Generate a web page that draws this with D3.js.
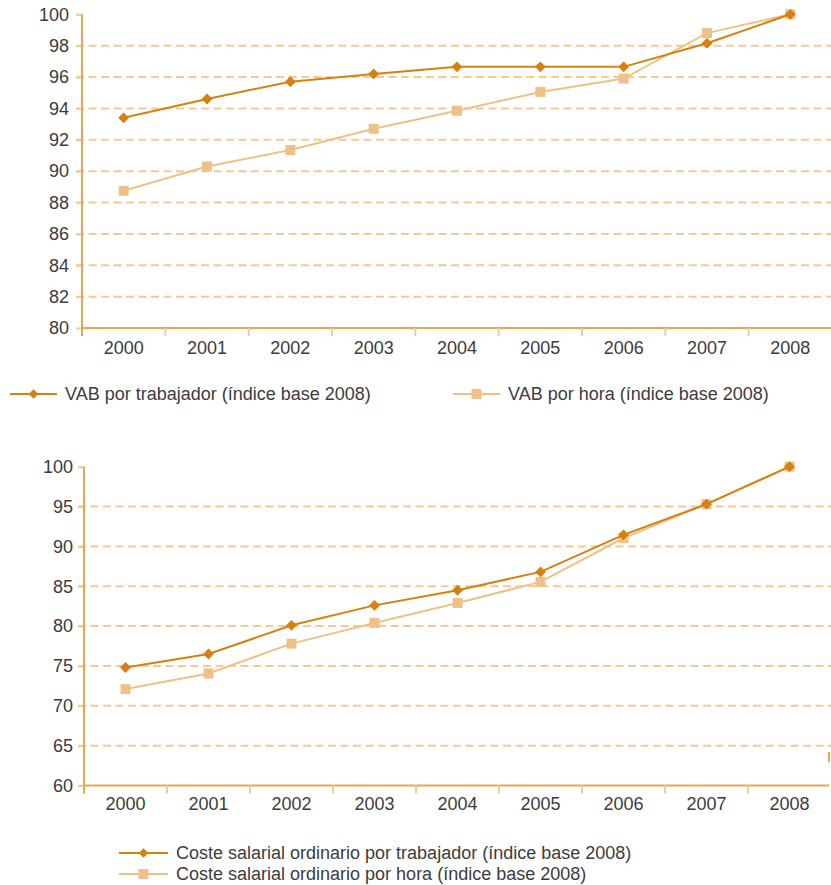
<!DOCTYPE html>
<html>
<head>
<meta charset="utf-8">
<script src="https://cdn.jsdelivr.net/npm/d3@7"></script>
<style>
  body { margin: 0; background: #fff; }
  svg text { font-family: "Liberation Sans", Arial, sans-serif; fill: #3c3c3c; }
</style>
</head>
<body>
<svg id="chart" width="831" height="885"></svg>
<script>
// data
const years = ["2000", "2001", "2002", "2003", "2004", "2005", "2006", "2007", "2008"];
const vabTrabajador = [93.4, 94.6, 95.7, 96.2, 96.65, 96.65, 96.65, 98.15, 100];
const vabHora = [88.75, 90.3, 91.35, 92.7, 93.85, 95.05, 95.9, 98.8, 100];
const costeTrabajador = [74.8, 76.5, 80.1, 82.6, 84.5, 86.8, 91.45, 95.3, 100];
const costeHora = [72.1, 74.05, 77.8, 80.4, 82.9, 85.55, 91.05, 95.3, 100];
const topTicks = [80, 82, 84, 86, 88, 90, 92, 94, 96, 98, 100];
const bottomTicks = [60, 65, 70, 75, 80, 85, 90, 95, 100];

const axisColor = "#eaa552",
  gridColor = "#f3c994",
  darkColor = "#d4810f",
  lightColor = "#efc188",
  fontSize = 18;

const svg = d3.select("#chart");

function drawPanel(opts) {
  const g = svg.append("g");
  const x = d3.scaleBand().domain(years).range([opts.left, opts.right]);
  const y = d3.scaleLinear().domain(opts.domain).range([opts.bottom, opts.top]);

  // dashed grid lines (interior ticks only)
  g.selectAll("line.grid")
    .data(opts.ticks.slice(1, -1))
    .join("line")
    .attr("class", "grid")
    .attr("x1", opts.left - 6)
    .attr("x2", 831)
    .attr("y1", (d) => y(d))
    .attr("y2", (d) => y(d))
    .attr("stroke", gridColor)
    .attr("stroke-width", 2)
    .attr("stroke-dasharray", "8,4.5");

  // y axis
  const yAxis = g
    .append("g")
    .attr("transform", `translate(${opts.left},0)`)
    .call(d3.axisLeft(y).tickValues(opts.ticks).tickSize(6).tickPadding(opts.yPad));
  yAxis.select(".domain").remove();
  yAxis.selectAll(".tick line").attr("stroke", gridColor).attr("stroke-width", 2);
  yAxis.selectAll("text").attr("font-size", fontSize).style("fill", "#3c3c3c");

  g.append("line")
    .attr("x1", opts.left)
    .attr("x2", opts.left)
    .attr("y1", y(opts.domain[1]))
    .attr("y2", opts.bottom + 8)
    .attr("stroke", axisColor)
    .attr("stroke-width", 2);

  // x axis
  const xAxis = g
    .append("g")
    .attr("transform", `translate(0,${opts.bottom})`)
    .call(d3.axisBottom(x).tickSize(0).tickPadding(opts.xPad));
  xAxis.select(".domain").remove();
  xAxis.selectAll("text").attr("font-size", fontSize).style("fill", "#3c3c3c");

  g.append("line")
    .attr("x1", opts.left)
    .attr("x2", opts.axisEnd)
    .attr("y1", opts.bottom)
    .attr("y2", opts.bottom)
    .attr("stroke", axisColor)
    .attr("stroke-width", 2);

  // ticks at the band edges
  g.selectAll("line.xtick")
    .data(years.slice(1))
    .join("line")
    .attr("class", "xtick")
    .attr("x1", (d) => x(d))
    .attr("x2", (d) => x(d))
    .attr("y1", opts.bottom)
    .attr("y2", opts.bottom + 8)
    .attr("stroke", gridColor)
    .attr("stroke-width", 2);

  const cx = (d, i) => x(years[i]) + x.bandwidth() / 2;
  const line = d3.line().x((d, i) => cx(d, i)).y((d) => y(d));

  // light series under the dark one
  g.append("path")
    .datum(opts.light)
    .attr("d", line)
    .attr("fill", "none")
    .attr("stroke", lightColor)
    .attr("stroke-width", 2);
  g.selectAll("rect.pt")
    .data(opts.light)
    .join("rect")
    .attr("class", "pt")
    .attr("x", (d, i) => cx(d, i) - 5)
    .attr("y", (d) => y(d) - 5)
    .attr("width", 10)
    .attr("height", 10)
    .attr("fill", lightColor);

  g.append("path")
    .datum(opts.dark)
    .attr("d", line)
    .attr("fill", "none")
    .attr("stroke", darkColor)
    .attr("stroke-width", 2);
  g.selectAll("path.pt")
    .data(opts.dark)
    .join("path")
    .attr("class", "pt")
    .attr("d", d3.symbol(d3.symbolDiamond2, 75))
    .attr("transform", (d, i) => `translate(${cx(d, i)},${y(d)})`)
    .attr("fill", darkColor);

  return g;
}

drawPanel({
  left: 82, right: 832, axisEnd: 831, top: 14.3, bottom: 328,
  domain: [80, 100], ticks: topTicks, yPad: 7, xPad: 13,
  dark: vabTrabajador, light: vabHora,
});

const bottomPanel = drawPanel({
  left: 84, right: 831, axisEnd: 829, top: 466.7, bottom: 785.5,
  domain: [60, 100], ticks: bottomTicks, yPad: 5, xPad: 12,
  dark: costeTrabajador, light: costeHora,
});
// little cut-off stub at the right edge
bottomPanel.append("line")
  .attr("x1", 829).attr("x2", 829).attr("y1", 752).attr("y2", 762)
  .attr("stroke", axisColor).attr("stroke-width", 2);

// legends
function legendItem(x0, x1, yy, kind, label) {
  const lg = svg.append("g");
  const color = kind === "dark" ? darkColor : lightColor;
  lg.append("line")
    .attr("x1", x0).attr("x2", x1).attr("y1", yy).attr("y2", yy)
    .attr("stroke", color).attr("stroke-width", 2);
  const mx = (x0 + x1) / 2;
  if (kind === "dark") {
    lg.append("path")
      .attr("d", d3.symbol(d3.symbolDiamond2, 60))
      .attr("transform", `translate(${mx},${yy})`)
      .attr("fill", color);
  } else {
    lg.append("rect")
      .attr("x", mx - 5).attr("y", yy - 5)
      .attr("width", 10).attr("height", 10)
      .attr("fill", color);
  }
  lg.append("text")
    .attr("x", x1 + 8)
    .attr("y", yy)
    .attr("dy", "0.35em")
    .attr("font-size", fontSize)
    .text(label);
}

legendItem(10, 57, 394, "dark", "VAB por trabajador (índice base 2008)");
legendItem(453, 500, 394, "light", "VAB por hora (índice base 2008)");
legendItem(119, 168, 853, "dark", "Coste salarial ordinario por trabajador (índice base 2008)");
legendItem(119, 168, 874, "light", "Coste salarial ordinario por hora (índice base 2008)");
</script>
</body>
</html>
